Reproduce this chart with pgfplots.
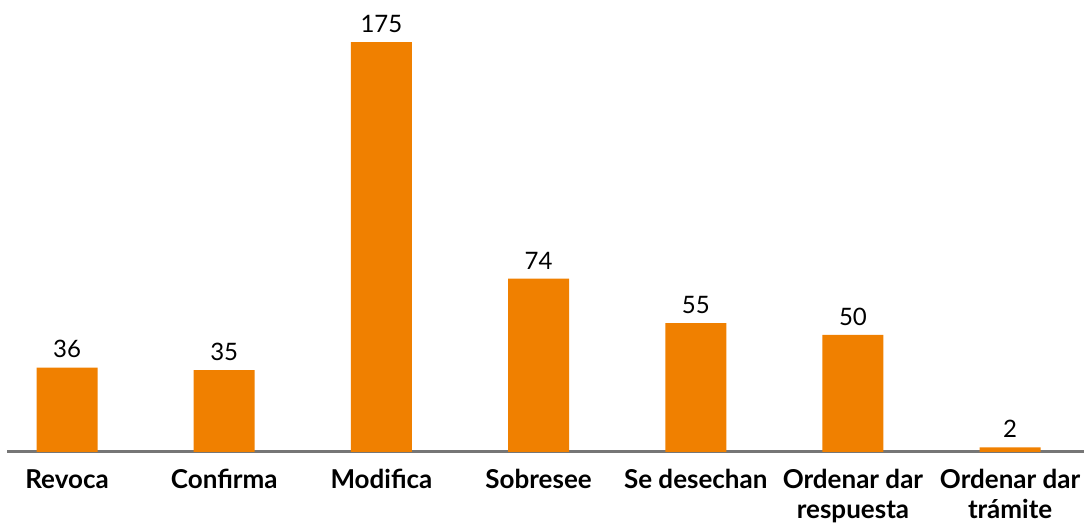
\documentclass[border=0pt]{standalone}
\usepackage{pgfplots}
\pgfplotsset{compat=1.18}
\usepackage{fontspec}
\setmainfont{Lato}
\definecolor{barorange}{HTML}{F08000}
\definecolor{axisgray}{HTML}{767676}
\begin{document}
\begin{tikzpicture}
\begin{axis}[
  scale only axis, width=1077pt, height=452pt,
  xmin=-0.382, xmax=6.47, ymin=0, ymax=193,
  axis x line*=bottom, axis y line=none,
  x axis line style={axisgray, line width=3pt, -},
  xtick=data,
  xticklabels={Revoca, Confirma, Modifica, Sobresee, Se desechan, Ordenar dar\\respuesta, Ordenar dar\\trámite},
  xticklabel style={font=\fontsize{26}{30}\selectfont\bfseries, align=center, text=black, yshift=-14pt},
  major tick length=0pt,
  ytick=\empty,
  ybar, bar width=61pt,
  nodes near coords,
  nodes near coords style={font=\fontsize{24}{28}\selectfont, text=black, yshift=6pt},
  /pgf/number format/assume math mode=true,
  clip=false,
]
\addplot[fill=barorange, draw=none] coordinates {(0,36) (1,35) (2,175) (3,74) (4,55) (5,50) (6,2)};
\end{axis}
\pgfresetboundingbox
\path[use as bounding box] ([shift={(-7pt,-72pt)}]current axis.south west) rectangle (current axis.north east);
\end{tikzpicture}
\end{document}
